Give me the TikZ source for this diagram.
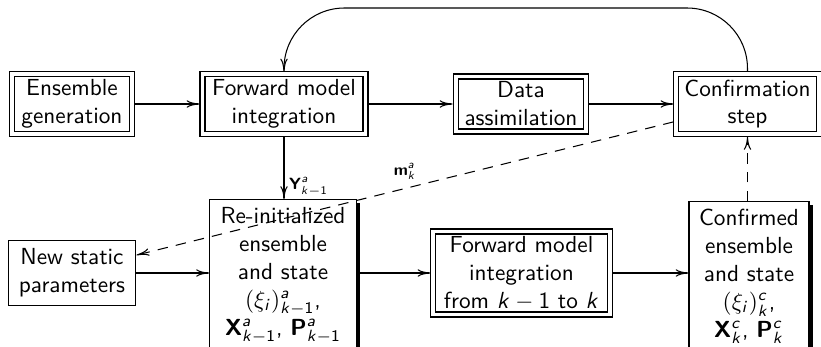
\documentclass[tikz,border=0pt]{standalone}
\usetikzlibrary{shadows,calc,arrows.meta}
\DeclareMathAlphabet{\msi}{OT1}{cmss}{m}{sl}
\DeclareMathAlphabet{\msu}{OT1}{cmss}{m}{n}
\DeclareMathAlphabet{\msb}{OT1}{cmss}{bx}{n}
\newcommand{\kk}{\msi{k}}
\newcommand{\km}{\msi{k}-\msu{1}}
\begin{document}
\begin{tikzpicture}[x=0.43pt,y=-0.43pt,
  base/.style={align=center, font=\sffamily, line width=0.45pt},
  dbox/.style={base, draw, double, double distance=1.7pt, outer sep=1.3pt, inner sep=1pt},
  sbox/.style={base, draw, fill=white},
  shbox/.style={sbox, drop shadow={shadow xshift=1.6pt, shadow yshift=-1.5pt, fill=black, opacity=1}},
  arr/.style={-{To[length=5.5pt,width=3.2pt]}, line width=0.45pt},
  dsh/.style={arr, dash pattern=on 4.5pt off 3.5pt},
  lbl/.style={font=\scriptsize\sffamily, inner sep=1pt}]
\useasboundingbox (0,0) rectangle (821,347);
\clip (0,0) rectangle (821,347);
\node[dbox, minimum width=51.2pt, minimum height=25.4pt] (ens) at (72,104) {Ensemble\\generation};
\node[dbox, minimum width=70.1pt, minimum height=25.4pt] (fwd) at (284,104) {Forward model\\integration};
\node[dbox, minimum width=56.3pt, minimum height=23.65pt] (da) at (521,104) {Data\\assimilation};
\node[dbox, minimum width=61.1pt, minimum height=25.8pt] (conf) at (747.5,104) {Confirmation\\step};
\node[sbox, minimum width=55pt, minimum height=27.5pt] (new) at (72,273) {New static\\parameters};
\node[shbox, minimum width=63.2pt, anchor=north] (rei) at (283,199) {Re-initialized\\ensemble\\and state\\$(\xi_{\msi{i}})^{\msi{a}}_{\km}$,\\$\msb{X}^{\msi{a}}_{\km}$, $\msb{P}^{\msi{a}}_{\km}$};
\node[dbox, minimum width=75.7pt, minimum height=35.7pt] (fwd2) at (521.5,273) {Forward model\\integration\\from $\km$ to $\kk$};
\node[shbox, minimum width=51.6pt, anchor=north] (cfd) at (749,201) {Confirmed\\ensemble\\and state\\$(\xi_{\msi{i}})^{\msi{c}}_{\kk}$,\\$\msb{X}^{\msi{c}}_{\kk}$, $\msb{P}^{\msi{c}}_{\kk}$};
\coordinate (top) at (0,8);
\draw[arr] (ens) -- (fwd);
\draw[arr] (fwd) -- (da);
\draw[arr] (da) -- (conf);
\draw[arr, rounded corners=26pt] (conf.north) |- (fwd.north |- top) -- (fwd.north);
\draw[arr] (fwd.south) -- (fwd.south |- rei.north);
\node[lbl, anchor=south west] (ylab) at ([xshift=1pt]fwd.south |- rei.north) {$\msb{Y}^{\msi{a}}_{\km}$};
\draw[arr] (new.east) -- (new.east -| rei.west);
\draw[arr] (new.east -| rei.east) -- (fwd2.west);
\draw[arr] (fwd2.east) -- (fwd2.east -| cfd.west);
\draw[dsh] ([yshift=-7.7pt]conf.west) -- node[lbl, above=2.5pt] (mlab) {$\msb{m}^{\msi{a}}_{\kk}$} ([yshift=7.7pt]new.east);
\draw[dsh] (cfd.north -| conf.south) -- (conf.south);
\end{tikzpicture}
\end{document}
